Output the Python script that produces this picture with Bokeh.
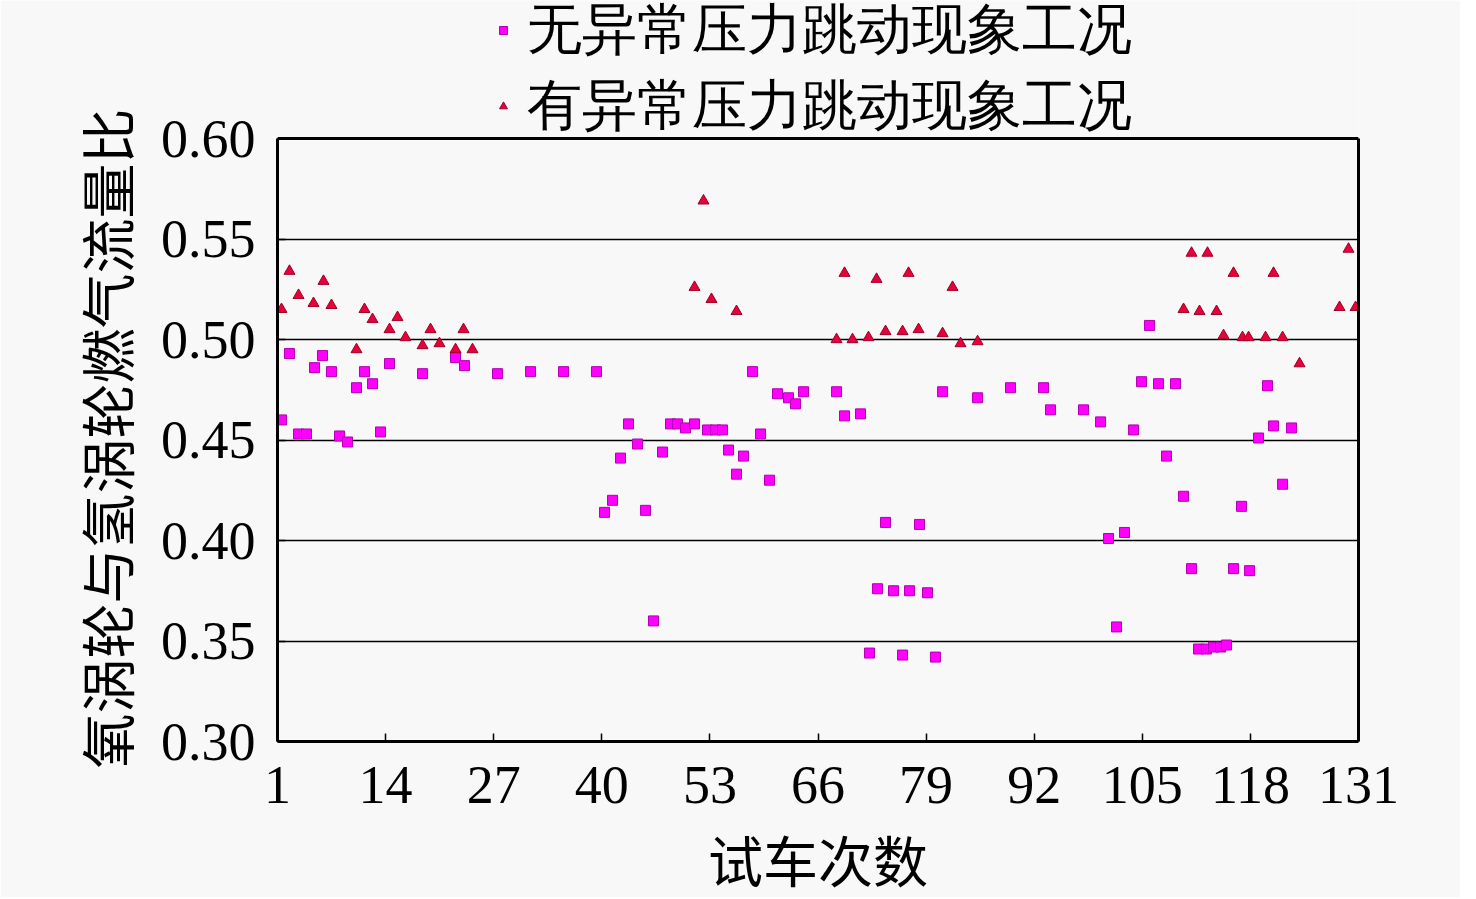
from bokeh.plotting import figure
from bokeh.models import (Range1d, FixedTicker, Legend, LegendItem, NumeralTickFormatter,
                          LinearAxis, Span, Title)
from bokeh.embed import file_html
from bokeh.resources import INLINE

# ---- data ----
normal_x = [1.48, 2.44, 3.53, 4.49, 5.45, 6.41, 7.49, 8.46, 9.42, 10.50, 11.46, 12.43, 13.39, 14.47,
            18.44, 22.41, 23.49, 27.46, 31.43, 35.40, 39.36,
            40.33, 41.29, 42.25, 43.21, 44.30, 45.26, 46.22, 47.30, 48.26, 49.11, 50.07, 51.15,
            52.71, 53.68, 54.52, 55.24, 56.20, 57.04, 58.13, 59.09, 60.17, 61.13, 62.45, 63.30, 64.26,
            68.23, 69.19, 71.11, 72.19, 73.16, 74.12, 75.08, 76.17, 77.01, 78.21, 79.17, 80.12, 80.98,
            85.19, 89.15, 93.12, 93.96, 97.93, 99.98, 100.94, 101.90, 102.86, 103.95, 104.91, 105.87,
            106.95, 107.91, 108.99, 109.96, 110.92, 111.76, 112.72, 113.57, 114.41, 115.13, 115.97,
            116.93, 117.90, 118.98, 120.06, 120.78, 121.87, 122.95]
normal_y = [0.460, 0.493, 0.453, 0.453, 0.486, 0.492, 0.484, 0.452, 0.449, 0.476, 0.484, 0.478, 0.454, 0.488,
            0.483, 0.491, 0.487, 0.483, 0.484, 0.484, 0.484,
            0.414, 0.420, 0.441, 0.458, 0.448, 0.415, 0.360, 0.444, 0.458, 0.458, 0.456, 0.458,
            0.455, 0.455, 0.455, 0.445, 0.433, 0.442, 0.484, 0.453, 0.430, 0.473, 0.471, 0.468, 0.474,
            0.474, 0.462, 0.463, 0.344, 0.376, 0.409, 0.375, 0.343, 0.375, 0.408, 0.374, 0.342, 0.474,
            0.471, 0.476, 0.476, 0.465, 0.465, 0.459, 0.401, 0.357, 0.404, 0.455, 0.479, 0.507,
            0.478, 0.442, 0.478, 0.422, 0.386, 0.346, 0.346, 0.347, 0.347, 0.348, 0.386,
            0.417, 0.385, 0.451, 0.477, 0.457, 0.428, 0.456]

abnormal_x = [1.48, 2.44, 3.53, 5.33, 6.53, 7.49, 10.50, 11.46, 12.43, 14.47, 15.43, 16.39, 18.44,
              19.40, 20.48, 22.41, 23.37, 24.45,
              51.15, 52.23, 53.19, 56.20,
              68.23, 69.19, 70.15, 72.07, 73.04, 74.12, 76.17, 76.89, 78.09, 80.98, 82.18, 83.14, 85.19,
              109.96, 110.92, 111.88, 112.84, 113.93, 114.77, 115.97, 117.05, 117.78, 119.82, 120.78,
              121.87, 123.91, 128.72, 129.80, 130.65]
abnormal_y = [0.515, 0.534, 0.522, 0.518, 0.529, 0.517, 0.495, 0.515, 0.510, 0.505, 0.511, 0.501, 0.497,
              0.505, 0.498, 0.495, 0.505, 0.495,
              0.526, 0.569, 0.520, 0.514,
              0.500, 0.533, 0.500, 0.501, 0.530, 0.504, 0.504, 0.533, 0.505, 0.503, 0.526, 0.498, 0.499,
              0.515, 0.543, 0.514, 0.543, 0.514, 0.502, 0.533, 0.501, 0.501, 0.501, 0.533,
              0.501, 0.488, 0.516, 0.545, 0.516]

x_ticks = [1, 14, 27, 40, 53, 66, 79, 92, 105, 118, 131]
y_ticks = [0.30, 0.35, 0.40, 0.45, 0.50, 0.55, 0.60]
label_normal = "无异常压力跳动现象工况"
label_abnormal = "有异常压力跳动现象工况"
x_title = "试车次数"
y_title = "氧涡轮与氢涡轮燃气流量比"

NUM_FONT = "Liberation Serif"
CJK_FONT = "Liberation Serif, Noto Sans CJK SC"
BG = "#f8f8f8"

W, H = 1460, 897
FRAME_TOP, FRAME_BOTTOM = 138, 741
y_lo, y_hi = y_ticks[0], y_ticks[-1]
# the frame reaches the top of the canvas so that the legend above the data box is drawn
y_top = y_hi + (y_hi - y_lo) * FRAME_TOP / (FRAME_BOTTOM - FRAME_TOP)

p = figure(width=W, height=H, output_backend="svg", toolbar_location=None,
           x_range=Range1d(x_ticks[0], x_ticks[-1]), y_range=Range1d(y_lo, y_top),
           min_border_left=277, min_border_right=102, min_border_top=0,
           min_border_bottom=H - FRAME_BOTTOM,
           background_fill_color=BG, border_fill_color=BG)

p.outline_line_color = None

p.xgrid.visible = False
p.ygrid.grid_line_color = "black"
p.ygrid.grid_line_width = 1.3

p.xaxis.ticker = FixedTicker(ticks=x_ticks)
p.yaxis.ticker = FixedTicker(ticks=y_ticks)
p.yaxis.formatter = NumeralTickFormatter(format="0.00")
p.yaxis.bounds = (y_lo, y_hi)

for ax in (p.xaxis[0], p.yaxis[0]):
    ax.axis_line_color = "black"
    ax.axis_line_width = 3
    ax.major_tick_line_color = "black"
    ax.major_tick_line_width = 1.5
    ax.major_tick_out = 0
    ax.major_tick_in = 8
    ax.minor_tick_line_color = None
    ax.major_label_text_font = NUM_FONT
    ax.major_label_text_font_size = "54px"
    ax.major_label_text_color = "black"
    ax.axis_label_text_font = CJK_FONT
    ax.axis_label_text_font_size = "55px"
    ax.axis_label_text_font_style = "normal"
    ax.axis_label_text_color = "black"

p.xaxis.axis_label = x_title
p.xaxis.major_label_standoff = 25
p.xaxis.axis_label_standoff = 27
p.yaxis.major_label_standoff = 22

# y title: a left-side title that starts a little below the data box, as in the reference
ytitle = Title(text=y_title, align="left", vertical_align="middle",
               offset=-27, standoff=31,
               text_font=CJK_FONT, text_font_size="55px", text_font_style="normal",
               text_color="black")
p.add_layout(ytitle, "left")

# right side and top of the data box
right_ax = LinearAxis(bounds=(y_lo, y_hi), ticker=FixedTicker(ticks=y_ticks),
                      axis_line_color="black", axis_line_width=3,
                      major_tick_line_color=None, minor_tick_line_color=None,
                      major_label_text_color=None, major_label_text_font_size="1px")
p.add_layout(right_ax, "right")
p.add_layout(Span(location=y_hi, dimension="width", line_color="black", line_width=3))

r1 = p.scatter(normal_x, normal_y, marker="square", size=10,
               fill_color="#ff00ff", line_color="#b000b0", line_width=1)
r2 = p.scatter(abnormal_x, abnormal_y, marker="triangle", size=11,
               fill_color="#e8003a", line_color="#a00028", line_width=1)

legend = Legend(items=[LegendItem(label=label_normal, renderers=[r1]),
                       LegendItem(label=label_abnormal, renderers=[r2])],
                location=(216, 598), orientation="vertical",
                background_fill_alpha=0, border_line_color=None,
                padding=0, margin=0, spacing=2,
                glyph_width=20, glyph_height=20, label_standoff=14,
                label_text_font=NUM_FONT, label_text_font_size="55px",
                label_text_color="black", label_text_baseline="middle")
p.add_layout(legend, "center")

open("out.html", "w").write(file_html(p, INLINE))
